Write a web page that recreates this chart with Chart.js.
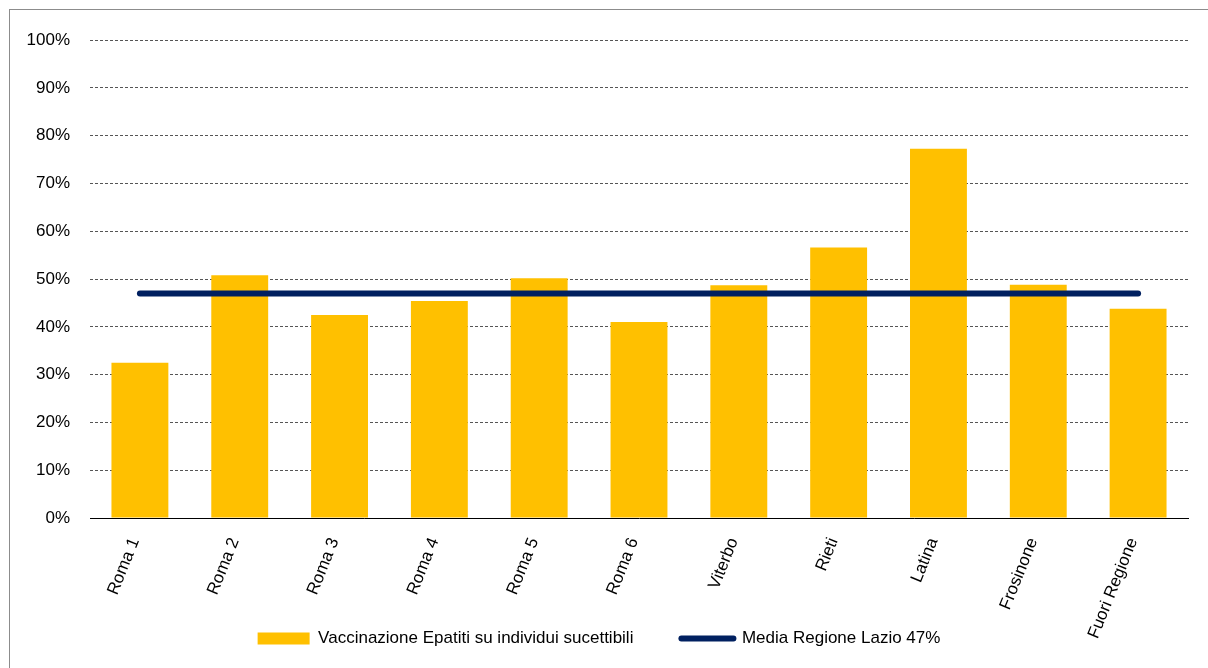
<!DOCTYPE html>
<html>
<head>
<meta charset="utf-8">
<script src="https://cdn.jsdelivr.net/npm/chart.js@4/dist/chart.umd.min.js"></script>
<style>
    html, body { margin: 0; padding: 0; background: #fff; overflow: hidden; }
    #frame { position: absolute; left: 9px; top: 9px; width: 1210px; height: 670px; border: 1px solid #8c8c8c; box-sizing: border-box; }
    #wrap { position: absolute; left: 10px; top: 10px; width: 1198px; height: 658px; }
</style>
</head>
<body>
<div id="frame"></div>
<div id="wrap"><canvas id="vaxChart"></canvas></div>
<script>
    // Data
    const categories = ['Roma 1', 'Roma 2', 'Roma 3', 'Roma 4', 'Roma 5', 'Roma 6', 'Viterbo', 'Rieti', 'Latina', 'Frosinone', 'Fuori Regione'];
    const vaccinationValues = [32.5, 50.8, 42.5, 45.4, 50.2, 41.0, 48.7, 56.6, 77.3, 48.8, 43.8];
    const regionAverage = 47;
    const averageValues = categories.map(() => regionAverage);
    const seriesLabels = ['Vaccinazione Epatiti su individui sucettibili', 'Media Regione Lazio 47%'];

    const colors = {
        bar: '#ffc000',   // Excel gold
        avg: '#002060',   // dark navy
        grid: '#555555'
    };
    const font = { family: "'Liberation Sans', Arial, sans-serif", size: 17 };

    const ctx = document.getElementById('vaxChart').getContext('2d');
    const chart = new Chart(ctx, {
        data: {
            labels: categories,
            datasets: [
                {
                    type: 'bar',
                    label: seriesLabels[0],
                    data: vaccinationValues,
                    backgroundColor: colors.bar,
                    barPercentage: 0.57,
                    categoryPercentage: 1,
                    order: 2
                },
                {
                    type: 'line',
                    label: seriesLabels[1],
                    data: averageValues,
                    borderColor: colors.avg,
                    borderWidth: 6,
                    borderCapStyle: 'round',
                    pointRadius: 0,
                    fill: false,
                    order: 1
                }
            ]
        },
        options: {
            responsive: true,
            maintainAspectRatio: false,
            animation: false,
            layout: { padding: { left: 0, right: 20, top: 17, bottom: 11 } },
            plugins: {
                tooltip: { enabled: false },
                legend: {
                    position: 'bottom',
                    labels: {
                        color: '#000',
                        font: font,
                        usePointStyle: true,
                        pointStyleWidth: 52,
                        boxHeight: 12,
                        padding: 48,
                        generateLabels: () => [
                            { text: seriesLabels[0], fillStyle: colors.bar, strokeStyle: colors.bar, lineWidth: 0, pointStyle: 'rect', datasetIndex: 0 },
                            { text: seriesLabels[1], fillStyle: colors.avg, strokeStyle: colors.avg, lineWidth: 6, lineCap: 'round', pointStyle: 'line', datasetIndex: 1 }
                        ]
                    }
                }
            },
            scales: {
                x: {
                    grid: { display: false },
                    border: { color: '#000', width: 1 },
                    ticks: { color: '#000', font: font, minRotation: 68, maxRotation: 68, padding: 9, labelOffset: -5 },
                    // rotated labels run down into the legend band, as in the original
                    afterFit(scale) { scale.height = 64; }
                },
                y: {
                    min: 0,
                    max: 100,
                    border: { display: false, dash: [3, 2] },
                    grid: { color: colors.grid, lineWidth: 1, drawTicks: false },
                    ticks: {
                        stepSize: 10,
                        color: '#000',
                        font: font,
                        padding: 20,
                        callback: v => v + '%'
                    },
                    afterFit(scale) { scale.width = 80; }
                }
            }
        },
        plugins: [{
            // don't clip the x labels to the (shortened) axis box
            id: 'noLabelClip',
            beforeDraw(c) { c.scales.x._computeLabelArea = () => undefined; }
        }]
    });
</script>
</body>
</html>
